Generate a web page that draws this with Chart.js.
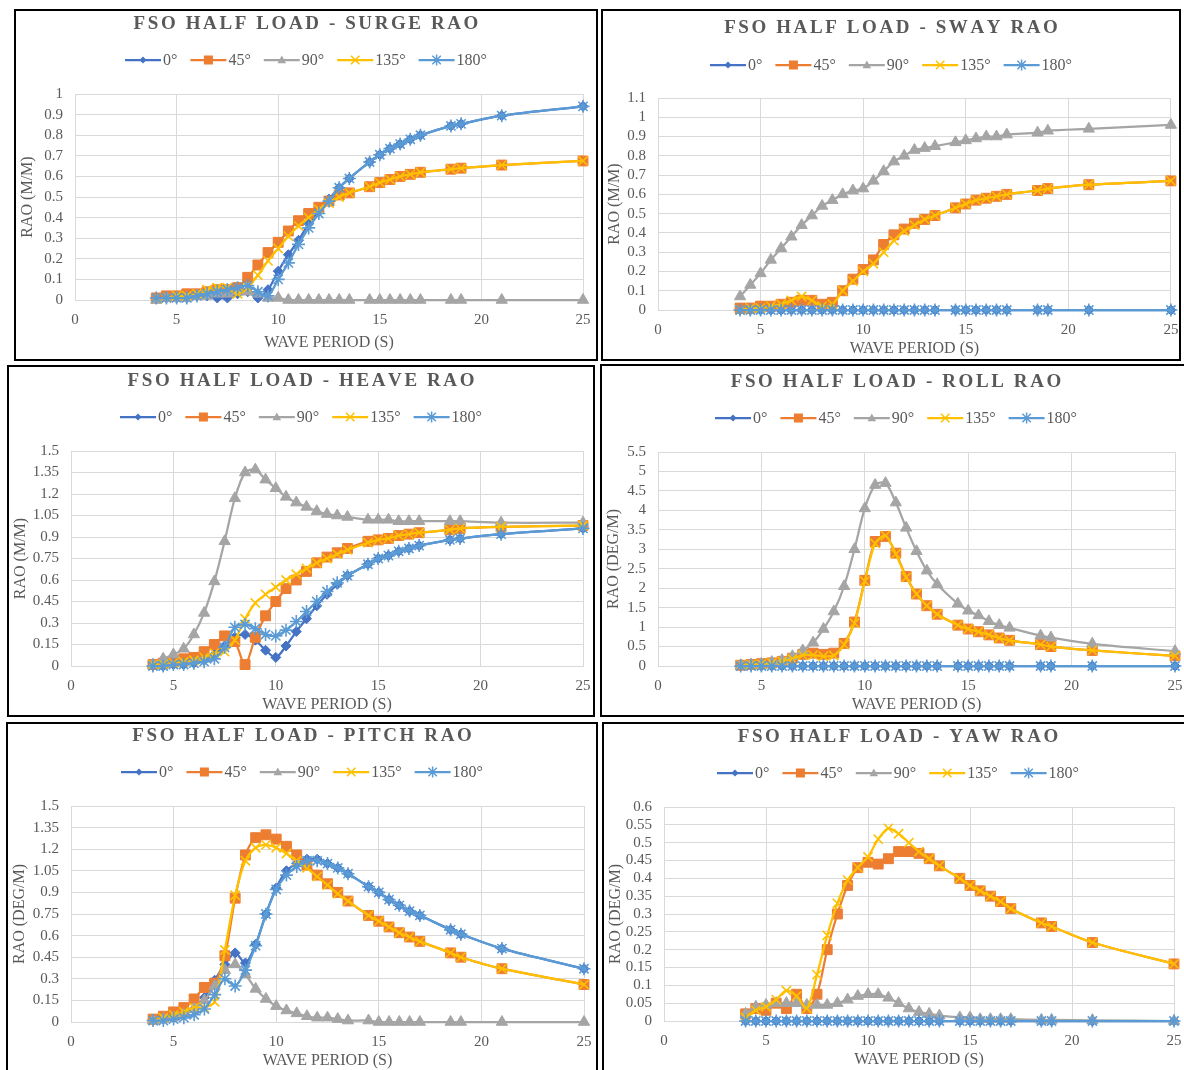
<!DOCTYPE html>
<html><head><meta charset="utf-8">
<script src="https://cdn.jsdelivr.net/npm/chart.js@4.4.1/dist/chart.umd.min.js"></script>
<style>
body{margin:0;background:#fff;width:1184px;height:1070px;position:relative;overflow:hidden}
.panel{position:absolute;border:2px solid #000;box-sizing:border-box;background:#fff}
.panel canvas{position:absolute;left:0;top:0}
</style></head><body>
<div id="p1" class="panel"><canvas id="c1"></canvas></div>
<div id="p2" class="panel"><canvas id="c2"></canvas></div>
<div id="p3" class="panel"><canvas id="c3"></canvas></div>
<div id="p4" class="panel"><canvas id="c4"></canvas></div>
<div id="p5" class="panel"><canvas id="c5"></canvas></div>
<div id="p6" class="panel"><canvas id="c6"></canvas></div>
<script>
// ---------------- DATA ----------------
const PERIODS = [4,4.5,5,5.5,6,6.5,7,7.5,8,8.5,9,9.5,10,10.5,11,11.5,12,12.5,13,13.5,14.5,15,15.5,16,16.5,17,18.5,19,21,25];
const SERIES_LABELS = ['0°','45°','90°','135°','180°'];
const X_TICKS = [0,5,10,15,20,25];

const surge0   = [0.01,0.01,0.01,0.01,0.02,0.02,0.01,0.01,0.03,0.04,0.01,0.05,0.14,0.22,0.29,0.37,0.43,0.49,0.545,0.59,0.67,0.705,0.735,0.757,0.78,0.80,0.845,0.855,0.895,0.94];
const surge45  = [0.01,0.02,0.02,0.03,0.03,0.04,0.05,0.05,0.06,0.11,0.17,0.23,0.28,0.335,0.385,0.42,0.45,0.48,0.51,0.52,0.55,0.57,0.585,0.60,0.61,0.62,0.635,0.64,0.655,0.675];
const surge90  = [0.00,0.01,0.01,0.01,0.02,0.02,0.03,0.03,0.04,0.04,0.03,0.01,0.01,0.00,0.00,0.00,0.00,0.00,0.00,0.00,0.00,0.00,0.00,0.00,0.00,0.00,0.00,0.00,0.00,0.00];
const surge135 = [0.01,0.01,0.02,0.02,0.03,0.05,0.06,0.06,0.03,0.06,0.12,0.19,0.25,0.31,0.36,0.40,0.44,0.47,0.50,0.52,0.55,0.57,0.585,0.60,0.61,0.62,0.635,0.64,0.655,0.675];
const surge180 = [0.01,0.01,0.01,0.01,0.02,0.03,0.04,0.05,0.06,0.07,0.04,0.02,0.10,0.18,0.27,0.35,0.42,0.48,0.545,0.59,0.67,0.705,0.735,0.757,0.78,0.80,0.845,0.855,0.895,0.94];

const sway0   = [0,0,0,0,0,0,0,0,0,0,0,0,0,0,0,0,0,0,0,0,0,0,0,0,0,0,0,0,0,0];
const sway45  = [0.01,0.01,0.02,0.02,0.03,0.04,0.05,0.05,0.03,0.04,0.10,0.16,0.21,0.26,0.34,0.39,0.42,0.45,0.47,0.49,0.53,0.55,0.57,0.58,0.59,0.60,0.62,0.63,0.65,0.67];
const sway90  = [0.07,0.13,0.19,0.26,0.32,0.38,0.44,0.49,0.54,0.57,0.60,0.62,0.63,0.67,0.72,0.77,0.80,0.83,0.84,0.85,0.87,0.88,0.89,0.90,0.90,0.91,0.92,0.93,0.94,0.96];
const sway135 = [0.00,0.01,0.01,0.02,0.03,0.05,0.07,0.05,0.02,0.03,0.10,0.15,0.20,0.24,0.30,0.36,0.41,0.44,0.47,0.49,0.53,0.55,0.57,0.58,0.59,0.60,0.62,0.63,0.65,0.67];
const sway180 = [0,0,0,0,0,0,0,0,0,0,0,0,0,0,0,0,0,0,0,0,0,0,0,0,0,0,0,0,0,0];

const heave0   = [0.00,0.00,0.01,0.01,0.02,0.04,0.08,0.14,0.20,0.22,0.18,0.11,0.06,0.14,0.24,0.33,0.42,0.50,0.57,0.63,0.71,0.75,0.77,0.80,0.82,0.84,0.88,0.89,0.92,0.96];
const heave45  = [0.01,0.02,0.03,0.05,0.06,0.10,0.15,0.21,0.17,0.01,0.20,0.35,0.45,0.54,0.60,0.66,0.72,0.76,0.79,0.82,0.87,0.88,0.89,0.91,0.92,0.93,0.95,0.96,0.97,0.98];
const heave90  = [0.01,0.05,0.08,0.12,0.22,0.37,0.59,0.87,1.17,1.35,1.37,1.30,1.24,1.18,1.14,1.11,1.08,1.06,1.05,1.04,1.02,1.02,1.02,1.01,1.01,1.01,1.01,1.01,1.00,1.00];
const heave135 = [0.01,0.01,0.02,0.03,0.04,0.06,0.09,0.10,0.18,0.33,0.44,0.50,0.55,0.60,0.64,0.68,0.72,0.75,0.78,0.81,0.86,0.88,0.89,0.91,0.92,0.93,0.95,0.96,0.97,0.98];
const heave180 = [0.00,0.00,0.01,0.01,0.02,0.03,0.05,0.13,0.27,0.29,0.26,0.22,0.21,0.25,0.31,0.38,0.45,0.52,0.58,0.63,0.71,0.75,0.77,0.80,0.82,0.84,0.88,0.89,0.92,0.96];

const roll0   = [0,0,0,0,0,0,0,0,0,0,0,0,0,0,0,0,0,0,0,0,0,0,0,0,0,0,0,0,0,0];
const roll45  = [0.02,0.04,0.06,0.08,0.12,0.20,0.30,0.33,0.30,0.33,0.58,1.13,2.20,3.20,3.33,2.90,2.30,1.85,1.55,1.33,1.05,0.95,0.88,0.80,0.72,0.66,0.55,0.50,0.40,0.26];
const roll90  = [0.02,0.04,0.06,0.10,0.15,0.25,0.40,0.60,0.95,1.40,2.05,3.00,4.05,4.65,4.70,4.20,3.55,2.95,2.45,2.10,1.60,1.42,1.30,1.15,1.05,0.98,0.78,0.73,0.57,0.38];
const roll135 = [0.02,0.04,0.05,0.08,0.12,0.18,0.28,0.28,0.25,0.27,0.55,1.10,2.18,3.15,3.35,2.88,2.28,1.85,1.55,1.33,1.05,0.95,0.88,0.80,0.72,0.66,0.55,0.50,0.40,0.26];
const roll180 = [0,0,0,0,0,0,0,0,0,0,0,0,0,0,0,0,0,0,0,0,0,0,0,0,0,0,0,0,0,0];

const pitch0   = [0.01,0.02,0.03,0.05,0.09,0.17,0.29,0.40,0.48,0.41,0.54,0.75,0.93,1.05,1.10,1.13,1.13,1.10,1.07,1.03,0.94,0.90,0.85,0.81,0.77,0.74,0.64,0.61,0.51,0.37];
const pitch45  = [0.02,0.04,0.07,0.10,0.16,0.24,0.27,0.46,0.86,1.16,1.28,1.30,1.27,1.22,1.16,1.09,1.02,0.96,0.90,0.84,0.74,0.70,0.66,0.62,0.59,0.56,0.48,0.45,0.37,0.26];
const pitch90  = [0.01,0.02,0.03,0.05,0.09,0.15,0.25,0.36,0.40,0.33,0.23,0.16,0.11,0.08,0.06,0.04,0.03,0.03,0.02,0.01,0.01,0.00,0.00,0.00,0.00,0.00,0.00,0.00,0.00,0.00];
const pitch135 = [0.01,0.03,0.05,0.07,0.10,0.10,0.14,0.50,0.88,1.12,1.21,1.23,1.21,1.17,1.12,1.07,1.01,0.95,0.89,0.84,0.74,0.70,0.66,0.62,0.59,0.56,0.48,0.45,0.37,0.26];
const pitch180 = [0.01,0.01,0.02,0.03,0.05,0.09,0.19,0.30,0.25,0.36,0.53,0.75,0.92,1.02,1.08,1.12,1.12,1.10,1.07,1.03,0.94,0.90,0.85,0.81,0.77,0.74,0.64,0.61,0.51,0.37];

const yaw0   = [0,0,0,0,0,0,0,0,0,0,0,0,0,0,0,0,0,0,0,0,0,0,0,0,0,0,0,0,0,0];
const yaw45  = [0.02,0.035,0.03,0.05,0.035,0.075,0.035,0.075,0.20,0.30,0.38,0.43,0.445,0.44,0.455,0.475,0.475,0.47,0.455,0.435,0.40,0.38,0.365,0.35,0.335,0.315,0.275,0.265,0.22,0.16];
const yaw90  = [0.02,0.04,0.045,0.05,0.05,0.05,0.045,0.045,0.045,0.05,0.06,0.07,0.075,0.075,0.065,0.05,0.035,0.025,0.02,0.015,0.01,0.01,0.005,0.005,0.005,0.005,0.003,0.003,0.002,0.00];
const yaw135 = [0.01,0.03,0.04,0.06,0.085,0.07,0.035,0.13,0.24,0.33,0.395,0.43,0.46,0.51,0.54,0.525,0.50,0.475,0.455,0.435,0.40,0.38,0.365,0.35,0.335,0.315,0.275,0.265,0.22,0.16];
const yaw180 = [0,0,0,0,0,0,0,0,0,0,0,0,0,0,0,0,0,0,0,0,0,0,0,0,0,0,0,0,0,0];

// ---------------- STYLE ----------------
const COLORS = ['#4472C4','#ED7D31','#A5A5A5','#FFC000','#5B9BD5'];
const MARKERS = ['rectRot','rect','triangle','crossRot','star'];
const RADII = [5,7,6.5,6.5,6.5];
const FONT = '"Liberation Serif","Times New Roman",serif';
const TXT = '#595959';
const GRID = '#D9D9D9';

const panels = [
  {id:'1', title:'FSO HALF LOAD - SURGE RAO', yTitle:'RAO (M/M)', series:[surge0,surge45,surge90,surge135,surge180], yMax:1, yStep:0.1,
   box:[14,9,584,352], plot:[75,94,583,300], titleY:23, legendY:60, xTitleY:342},
  {id:'2', title:'FSO HALF LOAD - SWAY RAO', yTitle:'RAO (M/M)', series:[sway0,sway45,sway90,sway135,sway180], yMax:1.1, yStep:0.1,
   box:[601,9,580,352], plot:[658,98,1172,310], titleY:27, legendY:65, xTitleY:348},
  {id:'3', title:'FSO HALF LOAD - HEAVE RAO', yTitle:'RAO (M/M)', series:[heave0,heave45,heave90,heave135,heave180], yMax:1.5, yStep:0.15,
   box:[7,365,588,352], plot:[71,451,583,666], titleY:380, legendY:417, xTitleY:704},
  {id:'4', title:'FSO HALF LOAD - ROLL RAO', yTitle:'RAO (DEG/M)', series:[roll0,roll45,roll90,roll135,roll180], yMax:5.5, yStep:0.5,
   box:[600,364,592,353], plot:[658,452,1175,666], titleY:381, legendY:418, xTitleY:704},
  {id:'5', title:'FSO HALF LOAD - PITCH RAO', yTitle:'RAO (DEG/M)', series:[pitch0,pitch45,pitch90,pitch135,pitch180], yMax:1.5, yStep:0.15,
   box:[6,722,592,356], plot:[71,806,584,1022], titleY:735, legendY:772, xTitleY:1060},
  {id:'6', title:'FSO HALF LOAD - YAW RAO', yTitle:'RAO (DEG/M)', series:[yaw0,yaw45,yaw90,yaw135,yaw180], yMax:0.6, yStep:0.05,
   box:[602,722,592,356], plot:[664,807,1174,1021], titleY:736, legendY:773, xTitleY:1059}
];

function drawMarker(ctx, type, x, y, color, r){
  ctx.save();
  ctx.fillStyle=color; ctx.strokeStyle=color; ctx.lineWidth=1.5;
  ctx.beginPath();
  if(type==='rectRot'){ctx.moveTo(x,y-r);ctx.lineTo(x+r,y);ctx.lineTo(x,y+r);ctx.lineTo(x-r,y);ctx.closePath();ctx.fill();}
  else if(type==='rect'){ctx.rect(x-r,y-r,2*r,2*r);ctx.fill();}
  else if(type==='triangle'){ctx.moveTo(x,y-r);ctx.lineTo(x+r*0.95,y+r*0.7);ctx.lineTo(x-r*0.95,y+r*0.7);ctx.closePath();ctx.fill();}
  else if(type==='crossRot'){ctx.moveTo(x-r,y-r);ctx.lineTo(x+r,y+r);ctx.moveTo(x+r,y-r);ctx.lineTo(x-r,y+r);ctx.stroke();}
  else if(type==='star'){ctx.moveTo(x-r,y-r);ctx.lineTo(x+r,y+r);ctx.moveTo(x+r,y-r);ctx.lineTo(x-r,y+r);ctx.moveTo(x,y-r*1.3);ctx.lineTo(x,y+r*1.3);ctx.stroke();}
  ctx.restore();
}

const decoPlugin = {
  id:'deco',
  afterDraw(chart, args, opts){
    const p = opts.panel; const ctx = chart.ctx;
    const ox = p.box[0]+2, oy = p.box[1]+2;
    ctx.save();
    ctx.font = 'bold 19px '+FONT; ctx.fillStyle = TXT; ctx.textBaseline='middle'; ctx.textAlign='left';
    const sp = 2.6; const chars = [...p.title];
    const widths = chars.map(c=>ctx.measureText(c).width);
    const tw = widths.reduce((a,b)=>a+b,0)+sp*(chars.length-1);
    let x = chart.width/2 - tw/2; const ty = p.titleY-oy+1;
    chars.forEach((c,i)=>{ctx.fillText(c,x,ty); x+=widths[i]+sp;});
    ctx.font = '16px '+FONT;
    const lineLen=36, gapText=2, gapItem=13;
    const tws = SERIES_LABELS.map(s=>ctx.measureText(s).width);
    const total = tws.reduce((a,w)=>a+lineLen+gapText+w,0)+gapItem*(SERIES_LABELS.length-1);
    let lx = chart.width/2 - total/2; const ly = p.legendY-oy;
    const legR=[3.5,4.5,4.5,4.2,4.2];
    SERIES_LABELS.forEach((s,i)=>{
      ctx.strokeStyle=COLORS[i]; ctx.lineWidth=2.25; ctx.beginPath(); ctx.moveTo(lx,ly); ctx.lineTo(lx+lineLen,ly); ctx.stroke();
      drawMarker(ctx, MARKERS[i], lx+lineLen/2, ly, COLORS[i], legR[i]);
      ctx.fillStyle=TXT; ctx.textBaseline='middle'; ctx.fillText(s, lx+lineLen+gapText, ly+1);
      lx += lineLen+gapText+tws[i]+gapItem;
    });
    ctx.restore();
  }
};

function fmt(v){ return String(parseFloat(Number(v).toFixed(3))); }

panels.forEach(p=>{
  const div = document.getElementById('p'+p.id);
  const [bx,by,bw,bh] = p.box;
  div.style.left=bx+'px'; div.style.top=by+'px'; div.style.width=bw+'px'; div.style.height=bh+'px';
  const cw=bw-4, ch=bh-4, ox=bx+2, oy=by+2;
  const canvas = document.getElementById('c'+p.id);
  canvas.width=cw; canvas.height=ch; canvas.style.width=cw+'px'; canvas.style.height=ch+'px';
  const pl=p.plot[0]-ox, pt=p.plot[1]-oy, pr=p.plot[2]-ox, pb=p.plot[3]-oy;
  const lh = 16*1.2;
  const padBottom = Math.max(0, ch - (p.xTitleY-oy) - lh/2 - 1);
  const datasets = p.series.map((arr,i)=>({
    label: SERIES_LABELS[i],
    data: PERIODS.map((x,j)=>({x:x,y:arr[j]})),
    showLine:true, borderColor:COLORS[i], backgroundColor:COLORS[i], borderWidth:2.25,
    pointStyle:MARKERS[i], pointRadius:RADII[i], pointBorderWidth:(i>=3?1.6:1),
    pointBorderColor:COLORS[i], pointBackgroundColor:COLORS[i],
    tension:0.3, order:4-i, clip:false
  }));
  new Chart(canvas,{
    type:'scatter',
    data:{datasets},
    options:{
      responsive:false, animation:false, devicePixelRatio:1,
      layout:{padding:{left:0, top:pt, right:cw-pr, bottom:0}},
      plugins:{legend:{display:false}, title:{display:false}, tooltip:{enabled:false}, deco:{panel:p}},
      scales:{
        x:{type:'linear', min:0, max:25,
           afterBuildTicks:(ax)=>{ax.ticks = X_TICKS.map(v=>({value:v}));},
           afterFit:(ax)=>{ax.height = ch - pb; ax.paddingLeft = 0; ax.paddingRight = 0;},
           grid:{color:GRID, drawTicks:false, lineWidth:1},
           border:{color:GRID},
           ticks:{color:TXT, font:{family:FONT,size:15}, padding:11, maxRotation:0, autoSkip:false, callback:fmt},
           title:{display:true, text:'WAVE PERIOD (S)', color:TXT, font:{family:FONT,size:16}, padding:{top:0,bottom:padBottom}}},
        y:{type:'linear', min:0, max:p.yMax,
           ticks:{stepSize:p.yStep, color:TXT, font:{family:FONT,size:15}, padding:12, autoSkip:false, callback:fmt},
           afterFit:(ax)=>{ax.width = pl; ax.paddingTop = 0; ax.paddingBottom = 0;},
           grid:{color:GRID, drawTicks:false, lineWidth:1},
           border:{color:GRID},
           title:{display:true, text:p.yTitle, color:TXT, font:{family:FONT,size:16}, padding:{top:2,bottom:0}}}
      }
    },
    plugins:[decoPlugin]
  });
});
</script>
</body></html>
